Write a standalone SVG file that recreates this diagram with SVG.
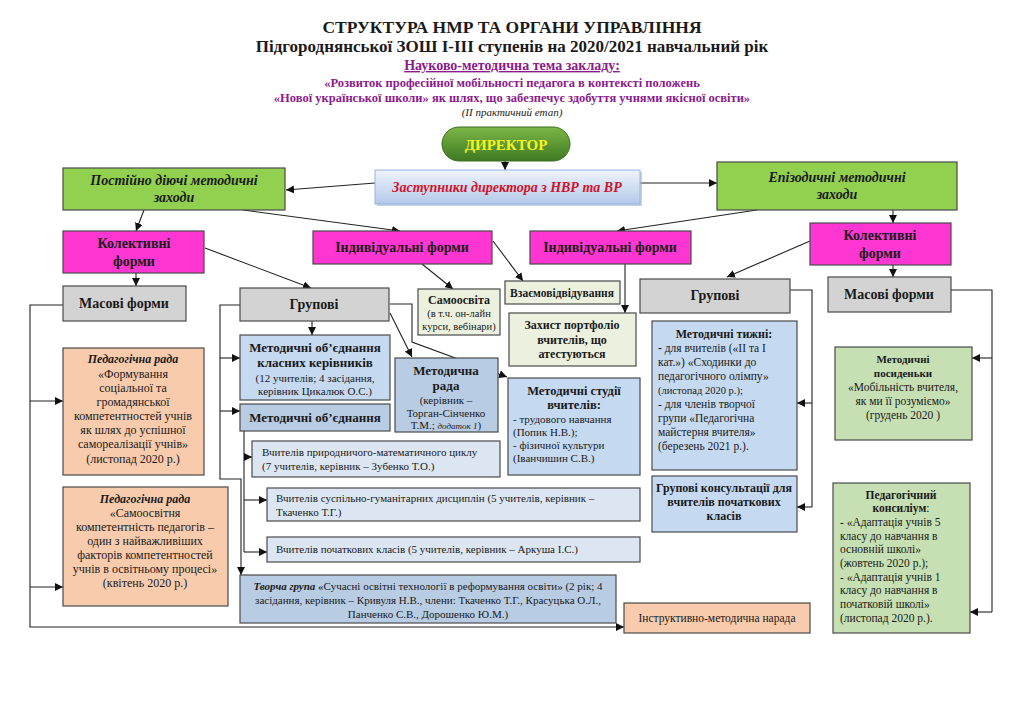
<svg xmlns="http://www.w3.org/2000/svg" width="1024" height="724" viewBox="0 0 1024 724">
<defs>
<style>
text{font-family:"Liberation Serif","Times New Roman",serif;fill:#1a1a1a}
.t{text-anchor:middle}
.b{font-weight:bold}
.i{font-style:italic}
.box{stroke:#4a4a4a;stroke-width:1.2}
.grn{fill:#92D050}
.mag{fill:#FF36D2}
.gry{fill:#D3D3D3}
.lg{fill:#EBF1DE}
.pch{fill:#F8CBAD}
.lb{fill:#C5D9F1}
.mb{fill:#B8CCE4}
.vb{fill:#DCE6F2}
.sg{fill:#C6E0B4}
.c{fill:none;stroke:#222;stroke-width:1.1}
.ca{fill:none;stroke:#222;stroke-width:1.1;marker-end:url(#ah)}
.s11{font-size:11px}
.s12{font-size:12px}
.s13{font-size:13px}
.s14{font-size:14px}
.pur{fill:#8B1A8B}
</style>
<marker id="ah" viewBox="0 0 10 10" refX="10" refY="5" markerWidth="8" markerHeight="8" markerUnits="userSpaceOnUse" orient="auto">
<path d="M0,0 L10,5 L0,10 z" fill="#111"/>
</marker>
<linearGradient id="dirG" x1="0" y1="0" x2="0" y2="1">
<stop offset="0" stop-color="#7DB646"/>
<stop offset="1" stop-color="#3E7A22"/>
</linearGradient>
<linearGradient id="zG" x1="0" y1="0" x2="0" y2="1">
<stop offset="0" stop-color="#EEF3FB"/>
<stop offset="1" stop-color="#B3C9EA"/>
</linearGradient>
</defs>
<rect width="1024" height="724" fill="#fff"/>

<g id="header">
<text class="t b" x="512" y="33" font-size="17.5">СТРУКТУРА НМР ТА ОРГАНИ УПРАВЛІННЯ</text>
<text class="t b" x="512" y="52" font-size="17">Підгороднянської ЗОШ І-ІІІ ступенів на 2020/2021 навчальний рік</text>
<text class="t b pur" x="512" y="70" font-size="14" text-decoration="underline">Науково-методична тема закладу:</text>
<text class="t b pur" x="512" y="87" font-size="12.5">«Розвиток професійної мобільності педагога в контексті положень</text>
<text class="t b pur" x="512" y="102" font-size="12.5">«Нової української школи» як шлях, що забезпечує здобуття учнями якісної освіти»</text>
<text class="t i" x="512" y="116" font-size="11">(ІІ практичний етап)</text>
</g>

<g id="connectors">
<path class="ca" d="M505,161 V170"/>
<path class="ca" d="M375,183 L286,190"/>
<path class="ca" d="M640,183 H717"/>
<path class="ca" d="M144,210 L136,231"/>
<path class="ca" d="M243,210 L400,231"/>
<path class="ca" d="M757,210 L617,231"/>
<path class="ca" d="M893,210 V223"/>
<path class="ca" d="M136,273 V286"/>
<path class="ca" d="M205,248 L311,288"/>
<path class="ca" d="M810,241 L727,277"/>
<path class="ca" d="M893,265 V277"/>
<path class="ca" d="M422,264 L453,289"/>
<path class="ca" d="M493,241 L523,281"/>
<path class="ca" d="M625,264 V313"/>
<path class="ca" d="M312,321 V335"/>
<path class="ca" d="M390,313 L412,357"/>
<path class="ca" d="M390,304 H412 V342 L507,377"/>
<path class="ca" d="M240,305 H220 V479 H241 V575"/>
<path class="ca" d="M220,358 H240"/>
<path class="ca" d="M220,411 H240"/>
<path class="c" d="M244,431 V552"/>
<path class="ca" d="M244,457 H252"/>
<path class="ca" d="M244,500 H267"/>
<path class="ca" d="M244,552 H267"/>
<path class="ca" d="M63,305 H30 V627 H624"/>
<path class="ca" d="M30,401 H63"/>
<path class="ca" d="M30,587 H63"/>
<path class="c" d="M790,290 H812 V507"/>
<path class="ca" d="M812,403 H797"/>
<path class="ca" d="M812,507 H797"/>
<path class="c" d="M951,290 H992 V612"/>
<path class="ca" d="M992,358 H972"/>
<path class="ca" d="M992,612 H970"/>
</g>

<g id="director">
<rect x="442" y="127" width="128" height="34" rx="17" fill="url(#dirG)" stroke="#3B6E20" stroke-width="1"/>
<text class="t b" x="506" y="150" font-size="15" fill="#F4F41E" style="fill:#F4F41E">ДИРЕКТОР</text>
</g>

<g id="deputies">
<rect x="377" y="172" width="265" height="34" fill="#9DB3D6" opacity="0.6"/>
<rect x="375" y="170" width="265" height="34" fill="url(#zG)" stroke="#9AB3DC" stroke-width="1"/>
<text class="t b i s14" x="507" y="192" style="fill:#D0122A">Заступники директора з НВР та ВР</text>
</g>

<g id="permanent">
<rect class="box grn" x="63" y="168" width="222" height="42"/>
<text class="t b i s14" x="174" y="185">Постійно діючі методичні</text>
<text class="t b i s14" x="174" y="202">заходи</text>
</g>

<g id="episodic">
<rect class="box grn" x="717" y="162" width="240" height="48"/>
<text class="t b i s14" x="837" y="182">Епізодичні методичні</text>
<text class="t b i s14" x="837" y="199">заходи</text>
</g>

<g id="collective-left">
<rect class="box mag" x="63" y="231" width="141" height="42"/>
<text class="t b s14" x="134" y="248">Колективні</text>
<text class="t b s14" x="134" y="266">форми</text>
</g>

<g id="individual-left">
<rect class="box mag" x="313" y="231" width="179" height="33"/>
<text class="t b s14" x="402" y="252">Індивідуальні форми</text>
</g>

<g id="individual-right">
<rect class="box mag" x="530" y="231" width="161" height="33"/>
<text class="t b s14" x="610" y="252">Індивідуальні форми</text>
</g>

<g id="collective-right">
<rect class="box mag" x="810" y="223" width="141" height="42"/>
<text class="t b s14" x="880" y="240">Колективні</text>
<text class="t b s14" x="880" y="258">форми</text>
</g>

<g id="mass-left">
<rect class="box gry" x="63" y="286" width="123" height="35"/>
<text class="t b s14" x="124" y="308">Масові форми</text>
</g>

<g id="group-left">
<rect class="box gry" x="240" y="288" width="149" height="33"/>
<text class="t b s14" x="314" y="309">Групові</text>
</g>

<g id="group-right">
<rect class="box gry" x="640" y="279" width="150" height="34"/>
<text class="t b s14" x="715" y="300">Групові</text>
</g>

<g id="mass-right">
<rect class="box gry" x="828" y="277" width="123" height="35"/>
<text class="t b s14" x="889" y="299">Масові форми</text>
</g>

<g id="self-education">
<rect class="box lg" x="418" y="289" width="82" height="46"/>
<text class="t b s12" x="459" y="304">Самоосвіта</text>
<text class="t" x="459" y="317" font-size="10.5">(в т.ч. он-лайн</text>
<text class="t" x="459" y="330" font-size="10.5">курси, вебінари)</text>
</g>

<g id="mutual-visits">
<rect class="box lg" x="505" y="281" width="115" height="23"/>
<text class="t b" x="562" y="297" font-size="11.5">Взаємовідвідування</text>
</g>

<g id="portfolio">
<rect class="box lg" x="509" y="313" width="127" height="53"/>
<text class="t b s12" x="572" y="329">Захист портфоліо</text>
<text class="t b s12" x="572" y="344">вчителів,  що</text>
<text class="t b s12" x="572" y="358">атестуються</text>
</g>

<g id="mo-class">
<rect class="box lb" x="240" y="335" width="150" height="65"/>
<text class="t b s13" x="315" y="352">Методичні об’єднання</text>
<text class="t b s13" x="315" y="367">класних керівників</text>
<text class="t s11" x="315" y="382">(12 учителів; 4 засідання,</text>
<text class="t s11" x="315" y="395">керівник Цикалюк О.С.)</text>
</g>

<g id="mo">
<rect class="box mb" x="240" y="404" width="150" height="27"/>
<text class="t b s13" x="315" y="422">Методичні об’єднання</text>
</g>

<g id="method-council">
<rect class="box mb" x="395" y="358" width="103" height="74"/>
<text class="t b s13" x="446" y="375">Методична</text>
<text class="t b s13" x="446" y="390">рада</text>
<text class="t s11" x="446" y="404">(керівник –</text>
<text class="t s11" x="446" y="417">Торган-Сінченко</text>
<text class="t s11" x="446" y="429">Т.М.; <tspan class="i" font-size="9">додаток 1</tspan>)</text>
</g>

<g id="studios">
<rect class="box lb" x="508" y="378" width="132" height="97"/>
<text class="t b" x="574" y="395" font-size="12.5">Методичні студії</text>
<text class="t b" x="574" y="409" font-size="12.5">вчителів:</text>
<text class="s11" x="513" y="423">- трудового навчання</text>
<text class="s11" x="513" y="436">(Попик Н.В.);</text>
<text class="s11" x="513" y="449">- фізичної культури</text>
<text class="s11" x="513" y="462">(Іванчишин С.В.)</text>
</g>

<g id="weeks">
<rect class="box lb" x="652" y="321" width="145" height="149"/>
<text class="t b s12" x="724" y="338">Методичні тижні:</text>
<text x="658" y="352" font-size="11.5"><tspan class="b">-</tspan> для вчителів («ІІ та І</text>
<text x="658" y="366" font-size="11.5">кат.») «Сходинки до</text>
<text x="658" y="380" font-size="11.5">педагогічного олімпу»</text>
<text x="658" y="394" font-size="10.5">(листопад 2020 р.);</text>
<text x="658" y="408" font-size="11.5">- для членів творчої</text>
<text x="658" y="422" font-size="11.5">групи «Педагогічна</text>
<text x="658" y="436" font-size="11.5">майстерня вчителя»</text>
<text x="658" y="450" font-size="11.5">(березень 2021 р.).</text>
</g>

<g id="consultations">
<rect class="box lb" x="652" y="476" width="145" height="56"/>
<text class="t b s12" x="724" y="492">Групові консультації для</text>
<text class="t b s12" x="724" y="506">вчителів початкових</text>
<text class="t b s12" x="724" y="520">класів</text>
</g>

<g id="gatherings">
<rect class="box sg" x="835" y="347" width="137" height="93"/>
<text class="t b s11" x="903" y="363">Методичні</text>
<text class="t b s11" x="903" y="377">посиденьки</text>
<text class="t" x="903" y="391" font-size="11.5">«Мобільність вчителя,</text>
<text class="t" x="903" y="405" font-size="11.5">як ми її розуміємо»</text>
<text class="t" x="903" y="419" font-size="11.5">(грудень 2020 )</text>
</g>

<g id="consilium">
<rect class="box sg" x="833" y="483" width="137" height="150"/>
<text class="t b" x="901" y="499" font-size="11.5">Педагогічний</text>
<text class="t" x="901" y="512" font-size="11.5"><tspan class="b">консиліум</tspan>:</text>
<text x="840" y="526" font-size="11.5">- «Адаптація учнів 5</text>
<text x="840" y="540" font-size="11.5">класу до навчання в</text>
<text x="840" y="553" font-size="11.5">основній школі»</text>
<text x="840" y="567" font-size="11.5">(жовтень 2020 р.);</text>
<text x="840" y="581" font-size="11.5">- «Адаптація учнів 1</text>
<text x="840" y="594" font-size="11.5">класу до навчання в</text>
<text x="840" y="608" font-size="11.5">початковій  школі»</text>
<text x="840" y="622" font-size="11.5">(листопад 2020 р.).</text>
</g>

<g id="council-1">
<rect class="box pch" x="63" y="348" width="141" height="127"/>
<text class="t b i s12" x="133" y="363">Педагогічна рада</text>
<text class="t s12" x="133" y="378">«Формування</text>
<text class="t s12" x="133" y="392">соціальної та</text>
<text class="t s12" x="133" y="406">громадянської</text>
<text class="t s12" x="133" y="420">компетентностей учнів</text>
<text class="t s12" x="133" y="434">як шлях до успішної</text>
<text class="t s12" x="133" y="448">самореалізації учнів»</text>
<text class="t s12" x="133" y="463">(листопад 2020 р.)</text>
</g>

<g id="council-2">
<rect class="box pch" x="63" y="487" width="165" height="119"/>
<text class="t b i s12" x="145" y="503">Педагогічна рада</text>
<text class="t s12" x="145" y="517">«Самоосвітня</text>
<text class="t s12" x="145" y="531">компетентність педагогів –</text>
<text class="t s12" x="145" y="545">один з найважливіших</text>
<text class="t s12" x="145" y="559">факторів компетентностей</text>
<text class="t s12" x="145" y="573">учнів в освітньому процесі»</text>
<text class="t s12" x="145" y="587">(квітень 2020 р.)</text>
</g>

<g id="teachers-science">
<rect class="box vb" x="252" y="441" width="248" height="36"/>
<text class="s11" x="262" y="456">Вчителів природничого-математичного циклу</text>
<text class="s11" x="262" y="470">(7 учителів, керівник – Зубенко Т.О.)</text>
</g>

<g id="teachers-humanities">
<rect class="box vb" x="267" y="488" width="373" height="33"/>
<text class="s11" x="276" y="502">Вчителів суспільно-гуманітарних дисциплін (5 учителів, керівник –</text>
<text class="s11" x="276" y="516">Ткаченко Т.Г.)</text>
</g>

<g id="teachers-primary">
<rect class="box vb" x="267" y="537" width="373" height="25"/>
<text class="s11" x="276" y="553">Вчителів початкових класів (5 учителів, керівник – Аркуша І.С.)</text>
</g>

<g id="creative-group">
<rect class="box mb" x="240" y="575" width="376" height="48"/>
<text class="t s11" x="428" y="590"><tspan class="b i">Творча група</tspan> «Сучасні освітні технології в реформування освіти» (2 рік; 4</text>
<text class="t s11" x="428" y="604">засідання, керівник – Кривуля  Н.В., члени: Ткаченко Т.Г., Красуцька О.Л.,</text>
<text class="t s11" x="428" y="618">Панченко С.В., Дорошенко Ю.М.)</text>
</g>

<g id="briefing">
<rect class="box pch" x="624" y="603" width="186" height="30"/>
<text class="t" x="717" y="622" font-size="11.5">Інструктивно-методична нарада</text>
</g>
</svg>
